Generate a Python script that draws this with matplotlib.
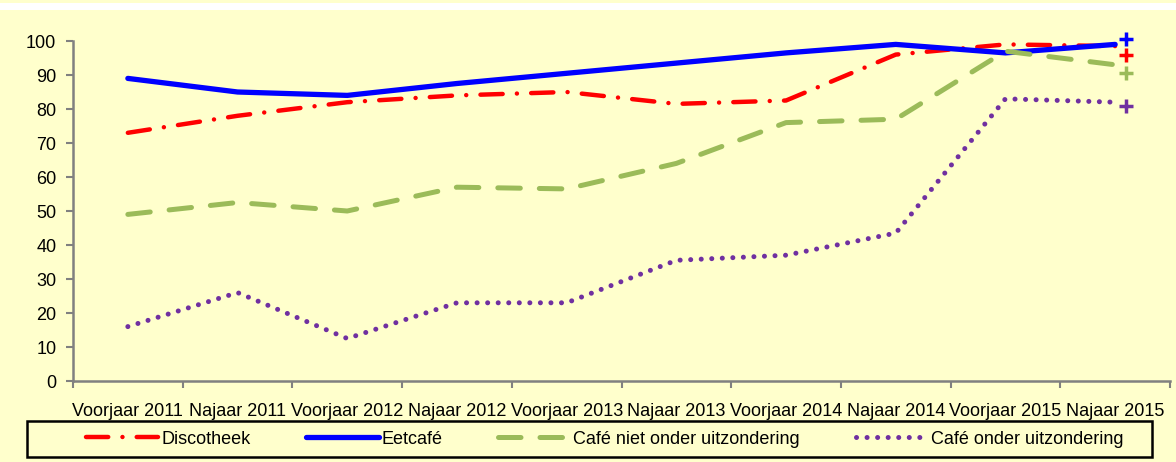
import matplotlib
matplotlib.use("Agg")
import matplotlib.pyplot as plt
from matplotlib.patches import Rectangle

# categories and series values (percentages)
periods = ["Voorjaar 2011", "Najaar 2011", "Voorjaar 2012", "Najaar 2012", "Voorjaar 2013",
           "Najaar 2013", "Voorjaar 2014", "Najaar 2014", "Voorjaar 2015", "Najaar 2015"]
discotheek = [73, 78, 82, 84, 85, 81.5, 82.5, 96, 99, 98.5]
eetcafe = [89, 85, 84, 87.5, 90.5, 93.5, 96.5, 99, 96.5, 99]
cafe_niet = [49, 52.5, 50, 57, 56.5, 64, 76, 77, 97, 93]
cafe_onder = [16, 26, 12.5, 23, 23, 35.5, 37, 43.5, 83, 82]
# the separate "+" markers at the right end
plus_vals = [96, 100.5, 90.5, 81]   # discotheek, eetcafe, cafe niet, cafe onder

BG = "#FFFFCC"
RED, BLUE, GREEN, PURPLE = "#FF0000", "#0000FF", "#9BBB59", "#7030A0"
FONT = ["Liberation Sans Narrow", "Liberation Sans", "DejaVu Sans"]

fig = plt.figure(figsize=(11.76, 4.62), dpi=100, facecolor=BG)
# white strip near the top (cut-off title area)
fig.patches.append(Rectangle((0, 1 - 10 / 462), 1, 7 / 462, transform=fig.transFigure,
                             facecolor="white", edgecolor="none", zorder=0))

ax = fig.add_axes([73 / 1176, 1 - 381 / 462, (1170 - 73) / 1176, 340 / 462])
ax.set_facecolor(BG)

x = list(range(len(periods)))
l1, = ax.plot(x, discotheek, color=RED, lw=3.2, dashes=(5, 3.2, 0.01, 3.2),
              dash_capstyle="round", label="Discotheek", clip_on=False)
l2, = ax.plot(x, eetcafe, color=BLUE, lw=3.8, solid_capstyle="round", label="Eetcafé",
              clip_on=False)
l3, = ax.plot(x, cafe_niet, color=GREEN, lw=3.6, dashes=(4.5, 3.8), dash_capstyle="round",
              label="Café niet onder uitzondering", clip_on=False)
l4, = ax.plot(x, cafe_onder, color=PURPLE, lw=3.6, dashes=(0.01, 2.1), dash_capstyle="round",
              label="Café onder uitzondering", clip_on=False)

for v, c in zip(plus_vals, [RED, BLUE, GREEN, PURPLE]):
    ax.plot([x[-1] + 0.1], [v], marker="+", ms=10, mew=2.5, color=c, clip_on=False)

ax.set_xlim(-0.5, len(periods) - 0.5)
ax.set_ylim(0, 100)
ax.set_yticks(range(0, 101, 10))
ax.set_xticks(x)
ax.set_xticklabels(periods)
ax.set_xticks([i - 0.5 for i in range(len(periods) + 1)], minor=True)
ax.tick_params(axis="x", which="major", length=0, pad=16)
ax.tick_params(axis="x", which="minor", length=5, width=1.5, color="#808080", direction="out")
ax.tick_params(axis="y", length=5, width=1.5, color="#808080", direction="out", pad=7)
for lab in ax.get_xticklabels() + ax.get_yticklabels():
    lab.set_family(FONT)
    lab.set_fontsize(13)
for s in ["top", "right"]:
    ax.spines[s].set_visible(False)
for s in ["left", "bottom"]:
    ax.spines[s].set_color("#808080")
    ax.spines[s].set_linewidth(1.8)

# legend box
fig.patches.append(Rectangle((27 / 1176, 1 - 457 / 462), (1152 - 27) / 1176, 36 / 462,
                             transform=fig.transFigure, facecolor=BG, edgecolor="black",
                             lw=1.8, zorder=1))
leg = fig.legend(handles=[l1, l2, l3, l4], loc="center left", ncol=4,
                 bbox_to_anchor=(70 / 1176, 1 - 439 / 462), frameon=False,
                 handlelength=4.0, handletextpad=0.15, columnspacing=3.1,
                 prop={"family": FONT, "size": 13})

fig.savefig("out.png", dpi=100, facecolor=BG)
